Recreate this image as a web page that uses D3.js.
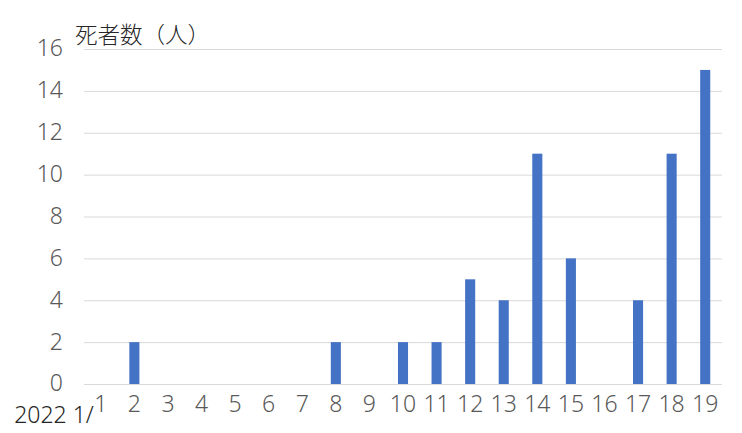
<!DOCTYPE html>
<html><head><meta charset="utf-8">
<script src="https://cdn.jsdelivr.net/npm/d3@7"></script>
<style>html,body{margin:0;padding:0;background:#fff;}</style>
</head><body>
<script>
const categories = ["1","2","3","4","5","6","7","8","9","10","11","12","13","14","15","16","17","18","19"];
const deaths = [0,2,0,0,0,0,0,2,0,2,2,5,4,11,6,0,4,11,15];
const yTicks = [0,2,4,6,8,10,12,14,16];
const yTitle = "死者数（人）";
const datePrefix = "2022 1/";

const W = 742, H = 433;
const m = {left: 84, right: 20, top: 49, bottom: 49};
const font = "'Noto Sans CJK JP', 'Noto Sans', sans-serif";
const latinFont = "'Noto Sans', 'Noto Sans CJK JP', sans-serif";

const svg = d3.select("body").append("svg").attr("width", W).attr("height", H);

const x = d3.scaleBand().domain(categories).range([m.left, W - m.right]).paddingInner(0.7).paddingOuter(0.35);
const y = d3.scaleLinear().domain([0, 16]).range([H - m.bottom, m.top]);

// gridlines
svg.append("g").selectAll("line").data(yTicks).join("line")
  .attr("x1", m.left).attr("x2", W - m.right)
  .attr("y1", d => y(d) + 0.5).attr("y2", d => y(d) + 0.5)
  .attr("stroke", "#d9d9d9").attr("stroke-width", 1);

// y axis labels
const yAxis = d3.axisLeft(y).tickValues(yTicks).tickSize(0).tickPadding(0);
const gy = svg.append("g").attr("transform", `translate(${m.left - 21},0)`).call(yAxis);
gy.select(".domain").remove();
gy.selectAll("text").attr("font-family", latinFont).attr("font-size", 23).attr("fill", "#595959").attr("font-weight", 300).attr("dy", "0.3em");

// bars
svg.append("g").selectAll("rect").data(categories).join("rect")
  .attr("x", d => x(d)).attr("width", x.bandwidth())
  .attr("y", (d, i) => y(deaths[i])).attr("height", (d, i) => y(0) - y(deaths[i]))
  .attr("fill", "#4472c4");

// x axis labels
const xAxis = d3.axisBottom(x).tickSize(0).tickPadding(0);
const gx = svg.append("g").attr("transform", `translate(0,${y(0) + 11})`).call(xAxis);
gx.select(".domain").remove();
gx.selectAll("text").attr("font-family", latinFont).attr("font-size", 23).attr("fill", "#595959").attr("font-weight", 300).attr("dy", "0.72em");

// date prefix
svg.append("text").attr("x", x("1") + x.bandwidth()/2 - 7).attr("y", 423)
  .attr("text-anchor", "end").attr("font-family", latinFont).attr("font-size", 23)
  .attr("fill", "#262626").attr("font-weight", 300).text(datePrefix);

// title
svg.append("text").attr("x", 75).attr("y", 43).attr("font-family", font).attr("font-size", 22.5)
  .attr("fill", "#262626").attr("font-weight", 300).text(yTitle);
</script>
</body></html>
